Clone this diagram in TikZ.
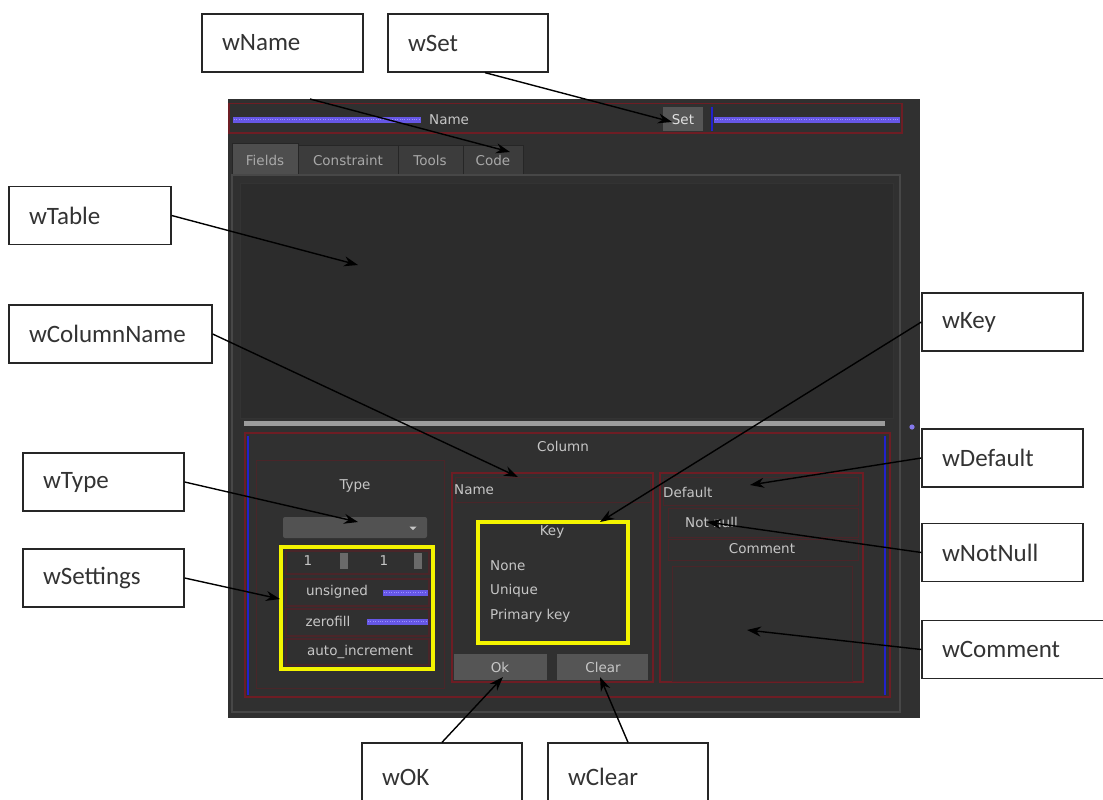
\documentclass[tikz,border=0pt]{standalone}
\usepackage{fontspec}
\setmainfont{Carlito}
\newfontfamily\uifont{DejaVu Sans}
\usetikzlibrary{arrows.meta,calc}

\definecolor{panelbg}{HTML}{303030}
\definecolor{tablebg}{HTML}{2C2C2C}
\definecolor{framec}{HTML}{474747}
\definecolor{redline}{HTML}{6E1D24}
\definecolor{redfaint}{HTML}{4A2529}
\definecolor{blueline}{HTML}{2222CC}
\definecolor{barblue}{HTML}{6657E6}
\definecolor{barhi}{HTML}{9C92FF}
\definecolor{uitext}{HTML}{C6C6C6}
\definecolor{btnc}{HTML}{555555}
\definecolor{tabsel}{HTML}{4E4E4E}
\definecolor{tabc}{HTML}{3C3C3C}
\definecolor{splitc}{HTML}{9C9C9C}
\definecolor{yellowc}{HTML}{F4F400}
\definecolor{spinc}{HTML}{6A6A6A}
\definecolor{labeltext}{HTML}{333333}

\begin{document}
\begin{tikzpicture}[x=1pt,y=-1pt,
  lbl/.style={draw=black!85, line width=1.3pt, fill=white, minimum height=58pt,
    inner xsep=20pt, align=left, font=\fontsize{25}{30}\selectfont, text=labeltext},
  arr/.style={draw=black, line width=1.4pt, -{Stealth[length=14pt,width=10pt]}},
  ui/.style={font=\uifont\fontsize{13.5}{16}\selectfont, text=uitext, inner sep=0pt},
  redbox/.style={draw=redline, line width=1.2pt},
  faintbox/.style={draw=redfaint, line width=1pt},
  blueedge/.style={draw=blueline, line width=2pt},
  bar/.style={fill=barblue},
  barline/.style={draw=barhi, line width=0.8pt, dash pattern=on 0.8pt off 1.6pt},
  btn/.style={fill=btnc},
  tabbox/.style={fill=tabc, draw=black!85, line width=0.6pt},
]
\useasboundingbox (0,0) rectangle (1103,800);
\clip (0,0) rectangle (1103,800);
\fill[white] (0,0) rectangle (1103,800);

% ---------- the dialog window ----------
\fill[panelbg] (228,99) rectangle (920,718);

% name row
\draw[redbox] (229,103.5) rectangle (902,133);
\fill[bar] (233,116.5) rectangle (421,123);
\draw[barline] (234,119.7) -- (420,119.7);
\node[ui, anchor=west] (nameLabel) at (429,120) {Name};
\fill[btn] (663,107) rectangle (703,131);
\node[ui, text=white!88!black] (setButton) at (683,120) {Set};
\draw[blueedge, line width=1.5pt] (712,107) -- (712,131);
\fill[bar] (714,116.5) rectangle (900,123);
\draw[barline] (715,119.7) -- (899,119.7);

% tabs
\fill[tabsel, draw=black!85, line width=0.6pt] (232,143) rectangle (298,175);
\path[tabbox] (298,145) rectangle (398,175);
\path[tabbox] (398,145) rectangle (463,175);
\path[tabbox] (463,145) rectangle (523,175);
\node[ui, text=uitext!85!black] (tabFields) at (265,160) {Fields};
\node[ui, text=uitext!85!black] (tabConstraint) at (348,160) {Constraint};
\node[ui, text=uitext!85!black] (tabTools) at (430,160) {Tools};
\node[ui, text=uitext!85!black] (tabCode) at (493,160) {Code};

% page frame and table area
\draw[framec, line width=1.2pt] (232,175) rectangle (900,712);
\fill[tablebg] (240,183) rectangle (893,418);
\draw[black!75!white!20!panelbg, line width=0.6pt] (240,183) rectangle (893,418);

% splitter handle
\fill[splitc] (244,421) rectangle (885,426);
\fill[barblue!80!white] (912,427) circle (2.6);

% column group
\draw[redbox] (245,433) rectangle (890,697);
\draw[blueedge] (248,436) -- (248,695);
\draw[blueedge] (885,436) -- (885,695);
\node[ui] (columnTitle) at (563,446) {Column};

% type group
\draw[faintbox] (256,460) rectangle (444,688);
\node[ui] (typeTitle) at (355,486) {Type};
\fill[black!68, rounded corners=2pt] (283,517) rectangle (427,538);
\fill[uitext] (409.5,526.5) -- (416.5,526.5) -- (413,530) -- cycle;

% settings
\draw[redbox, draw=redfaint] (286,551) rectangle (429,574);
\draw[redbox, draw=redfaint] (286,579) rectangle (429,606);
\draw[redbox, draw=redfaint] (286,609) rectangle (429,636);
\draw[redbox, draw=redfaint] (286,639) rectangle (429,665);
\node[ui] (lenValue) at (308,561) {1};
\fill[spinc] (340,553) rectangle (348,569);
\node[ui] (decValue) at (384,561) {1};
\fill[spinc] (414,553) rectangle (422,569);
\node[ui] (unsignedLabel) at (337,592) {unsigned};
\fill[bar] (383,589.5) rectangle (428,595.5);
\draw[barline] (384,592.5) -- (427,592.5);
\node[ui] (zerofillLabel) at (328,621) {zerofill};
\fill[bar] (367,618.5) rectangle (428,624.5);
\draw[barline] (368,621.5) -- (427,621.5);
\node[ui] (autoincLabel) at (360,652) {auto\_increment};
\draw[yellowc, line width=3.5pt] (281,547) rectangle (433,669);

% name group
\draw[redbox] (452,473) rectangle (653,682);
\draw[faintbox] (455,477) rectangle (650,502);
\node[ui, anchor=west] (columnNameLabel) at (454,490) {Name};
\node[ui] (keyTitle) at (552,532) {Key};
\node[ui, anchor=west] (keyNone) at (490,566) {None};
\node[ui, anchor=west] (keyUnique) at (490,591) {Unique};
\node[ui, anchor=west] (keyPrimary) at (490,616) {Primary key};
\draw[yellowc, line width=3.5pt] (478,522) rectangle (628,643);
\fill[btn] (454,654) rectangle (547,680);
\node[ui] (okButton) at (500,667) {Ok};
\fill[btn] (557,654) rectangle (648,680);
\node[ui] (clearButton) at (603,667) {Clear};

% default group
\draw[redbox] (660,473) rectangle (863,682);
\draw[faintbox] (663,477) rectangle (858,505);
\node[ui, anchor=west] (defaultLabel) at (663,492) {Default};
\draw[faintbox] (668,508) rectangle (858,537);
\node[ui, anchor=west] (notNullLabel) at (685,522) {Not null};
\draw[faintbox] (668,539) rectangle (858,560);
\node[ui] (commentTitle) at (762,549) {Comment};
\draw[faintbox] (672,566) rectangle (852,681);

% ---------- callout labels ----------
\node[lbl, text width=121pt] (wName) at (282.5,43) {wName};
\node[lbl, text width=120pt] (wSet) at (468,43) {wSet};
\node[lbl, text width=122pt] (wTable) at (90,215.5) {wTable};
\node[lbl, text width=163pt] (wColumnName) at (110.5,334) {wColumnName};
\node[lbl, text width=121pt] (wType) at (103.5,482) {wType};
\node[lbl, text width=121pt] (wSettings) at (103.5,578) {wSettings};
\node[lbl, text width=121pt] (wKey) at (1002.5,322) {wKey};
\node[lbl, text width=121pt] (wDefault) at (1002.5,458) {wDefault};
\node[lbl, text width=121pt] (wNotNull) at (1002.5,552.5) {wNotNull};
\node[lbl, text width=148pt] (wComment) at (1016,649.5) {wComment};
\node[lbl, text width=120pt, minimum height=68pt] (wOK) at (442,777) {wOK};
\node[lbl, text width=120pt, minimum height=68pt] (wClear) at (628,777) {wClear};

% ---------- pointer arrows ----------
\coordinate (wNameFoot) at (310,99);
\coordinate (ptCode) at (510,152);
\coordinate (ptSet) at (672,122);
\coordinate (ptTable) at (358,265);
\coordinate (ptColumnName) at (518,477);
\coordinate (ptType) at (358,522);
\coordinate (ptSettings) at (280,599);
\coordinate (ptKey) at (600,522);
\coordinate (ptDefault) at (750,485);
\coordinate (ptNotNull) at (707,522);
\coordinate (ptComment) at (747,630);
\coordinate (ptOk) at (503,677);
\coordinate (ptClear) at (600,677);

\draw[arr] (wNameFoot) -- (ptCode);
\draw[arr] ([xshift=17pt]wSet.south) -- (ptSet);
\draw[arr] (wTable.east) -- (ptTable);
\draw[arr] (wColumnName.east) -- (ptColumnName);
\draw[arr] (wType.east) -- (ptType);
\draw[arr] (wSettings.east) -- (ptSettings);
\draw[arr] (wKey.west) -- (ptKey);
\draw[arr] (wDefault.west) -- (ptDefault);
\draw[arr] (wNotNull.west) -- (ptNotNull);
\draw[arr] (wComment.west) -- (ptComment);
\draw[arr] (wOK.north) -- (ptOk);
\draw[arr] (wClear.north) -- (ptClear);
\end{tikzpicture}
\end{document}
